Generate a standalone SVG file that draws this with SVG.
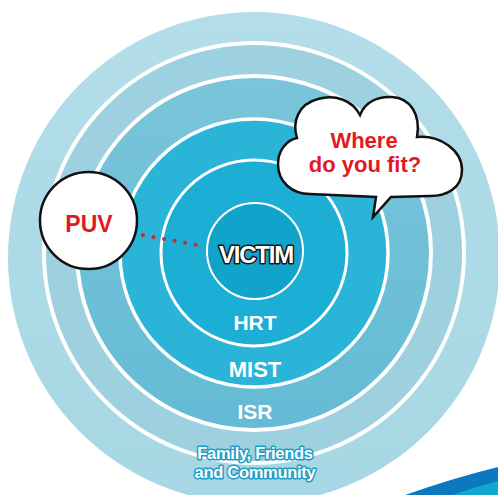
<svg xmlns="http://www.w3.org/2000/svg" width="498" height="495" viewBox="0 0 498 495">
<style>
.ring{stroke:#ffffff;}
.lbl{font-family:"Liberation Sans",Arial,sans-serif;font-weight:bold;text-anchor:middle;}
.wt{fill:#ffffff;}
.red{fill:#e3191f;}
.bub{fill:#ffffff;stroke:#111111;stroke-width:2.5;}
.fam{font-size:16.5px;letter-spacing:-0.3px;stroke:#1c9dc6;stroke-width:3;paint-order:stroke;stroke-linejoin:round;}
</style>
<defs>
<linearGradient id="gOuter" x1="0" y1="0" x2="0" y2="1">
<stop offset="0" stop-color="#b3dde9"/><stop offset="1" stop-color="#a7d7e4"/>
</linearGradient>
<linearGradient id="gIsr" x1="0" y1="0" x2="0" y2="1">
<stop offset="0" stop-color="#7ac5da"/><stop offset="1" stop-color="#64bbd5"/>
</linearGradient>
</defs>
<rect width="498" height="495" fill="#ffffff"/>
<g id="swoosh">
<path d="M405,495 Q450,479 498,467 L498,495 Z" fill="#0b78bf"/>
<path d="M452,495 Q475,487 498,481 L498,495 Z" fill="#12a6d1"/>
</g>
<g id="ring-community">
<circle cx="254" cy="258" r="246" fill="url(#gOuter)"/>
</g>
<g id="ring-outer">
<circle class="ring" cx="254" cy="253" r="210" fill="#9ed1e0" stroke-width="4"/>
</g>
<g id="ring-isr">
<circle class="ring" cx="254" cy="253" r="177" fill="url(#gIsr)" stroke-width="4"/>
<text class="lbl wt" x="255" y="419" font-size="21">ISR</text>
</g>
<g id="ring-mist">
<circle class="ring" cx="254" cy="253" r="134" fill="#2ab4d8" stroke-width="3.5"/>
<text class="lbl wt" x="255" y="377" font-size="22">MIST</text>
</g>
<g id="ring-hrt">
<circle class="ring" cx="254" cy="253" r="93" fill="#1daed5" stroke-width="3"/>
<text class="lbl wt" x="255" y="330" font-size="21">HRT</text>
</g>
<g id="victim">
<circle class="ring" cx="255" cy="251" r="48" fill="#11a4cb" stroke-width="2"/>
<text class="lbl wt" x="256" y="263" font-size="24" letter-spacing="-1.2" stroke="#151515" stroke-width="3" paint-order="stroke" stroke-linejoin="round">VICTIM</text>
</g>
<g id="community-label">
<text class="lbl wt fam" x="255" y="459">Family, Friends</text>
<text class="lbl wt fam" x="255" y="477.5">and Community</text>
</g>
<g id="connectors">
<line x1="143" y1="235" x2="197" y2="245" stroke="#d8232a" stroke-width="4" stroke-linecap="round" stroke-dasharray="0 10.7"/>
</g>
<g id="puv">
<circle class="bub" cx="88.5" cy="220.5" r="48.5"/>
<text class="lbl red" x="89" y="232" font-size="23">PUV</text>
</g>
<g id="cloud">
<path class="bub" d="M297,138 C292,122 298,104 318,99 C335,94 352,100 360,115 C365,102 378,96 392,97 C410,98 421,114 417,137 C440,135 462,150 462,170 C462,188 447,196 430,196 L391,197 L373,217 L376,197 L310,194 C292,194 278,182 278,164 C278,150 287,140 297,138 Z"/>
<text class="lbl red" x="364" y="148" font-size="22">Where</text>
<text class="lbl red" x="365" y="172" font-size="22">do you fit?</text>
</g>
</svg>
